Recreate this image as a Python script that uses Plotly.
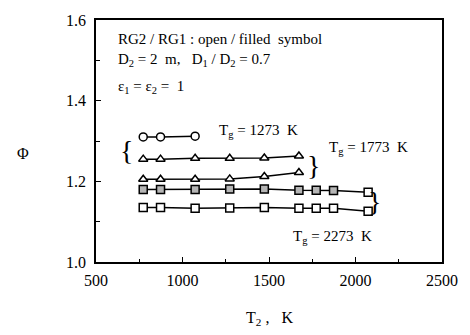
import plotly.graph_objects as go

# Data
t2_circ = [773, 873, 1073]
phi_circ = [1.310, 1.310, 1.312]

t2_tri_a = [773, 873, 1073, 1273, 1473, 1673]
phi_tri_a = [1.255, 1.255, 1.257, 1.257, 1.258, 1.263]

t2_tri_b = [773, 873, 1073, 1273, 1473, 1673]
phi_tri_b = [1.205, 1.205, 1.205, 1.206, 1.212, 1.222]

t2_sq_a = [773, 873, 1073, 1273, 1473, 1673, 1773, 1873, 2073]
phi_sq_a = [1.180, 1.180, 1.180, 1.181, 1.181, 1.178, 1.178, 1.177, 1.173]

t2_sq_b = [773, 873, 1073, 1273, 1473, 1673, 1773, 1873, 2073]
phi_sq_b = [1.135, 1.135, 1.133, 1.134, 1.135, 1.133, 1.133, 1.133, 1.126]

x_ticks = [500, 1000, 1500, 2000, 2500]
y_ticks = [1.0, 1.2, 1.4, 1.6]

SERIF = "Liberation Serif"
fig = go.Figure()

def add(x, y, symbol, fill):
    fig.add_trace(go.Scatter(
        x=x, y=y, mode="lines+markers",
        line=dict(color="black", width=1.5),
        marker=dict(symbol=symbol, size=8, color=fill,
                    line=dict(color="black", width=1.5)),
        showlegend=False))

grey = "#b5b5b5"
add(t2_circ, phi_circ, "circle", "white")
add(t2_tri_a, phi_tri_a, "triangle-up", "white")
add(t2_tri_b, phi_tri_b, "triangle-up", "white")
add(t2_sq_a, phi_sq_a, "square", [grey] * (len(t2_sq_a) - 1) + ["white"])
add(t2_sq_b, phi_sq_b, "square", "white")

axis_common = dict(showline=True, linecolor="black", linewidth=1.5, mirror=True,
                   ticks="inside", ticklen=5, tickwidth=1, tickcolor="black",
                   showgrid=False, zeroline=False,
                   tickfont=dict(family=SERIF, size=16, color="black"))

fig.update_xaxes(range=[500, 2500], tickvals=x_ticks,
                 ticktext=[str(v) for v in x_ticks], ticklabelstandoff=3,
                 minor=dict(ticks="inside", ticklen=3, dtick=250, tick0=500, tickcolor="black"),
                 **axis_common)
fig.update_yaxes(range=[1.0, 1.6], tickvals=y_ticks,
                 ticktext=["%.1f" % v for v in y_ticks], ticklabelstandoff=5,
                 minor=dict(ticks="inside", ticklen=4, dtick=0.1, tick0=1.0, tickcolor="black"),
                 **axis_common)

nb = "\u00a0"
ann = [
    (0.057, 0.92, f"RG2 / RG1 : open / filled{nb}{nb}symbol", 15, "left"),
    (0.057, 0.835, f"D<sub>2</sub> = 2{nb}{nb}m,{nb}{nb} D<sub>1</sub> / D<sub>2</sub> = 0.7", 15, "left"),
    (0.057, 0.725, f"ε<sub>1</sub> = ε<sub>2</sub> ={nb} 1", 15, "left"),
    (0.349, 0.54, f"T<sub>g</sub> = 1273{nb}{nb}K", 15, "left"),
    (0.669, 0.47, f"T<sub>g</sub> = 1773{nb}{nb}K", 15, "left"),
    (0.563, 0.105, f"T<sub>g</sub> = 2273{nb}{nb}K", 15, "left"),
]
for x, y, t, s, anc in ann:
    fig.add_annotation(x=x, y=y, xref="paper", yref="paper", text=t, showarrow=False,
                       xanchor=anc, yanchor="middle",
                       font=dict(family=SERIF, size=s, color="black"))

braces = [((127 - 96) / 350, (262 - 147) / 250, "{"),
          ((316 - 96) / 350, (262 - 162) / 250, "}"),
          ((378 - 96) / 350, (262 - 200) / 250, "}")]
for x, y, t in braces:
    fig.add_annotation(x=x, y=y, xref="paper", yref="paper", text=t, showarrow=False,
                       xanchor="center", yanchor="middle",
                       font=dict(family=SERIF, size=28, color="black"))

fig.add_annotation(x=(22 - 96) / 350, y=(262 - 150) / 250, xref="paper", yref="paper",
                   text="Φ", showarrow=False, xanchor="center", yanchor="middle",
                   font=dict(family=SERIF, size=16, color="black"))
fig.add_annotation(x=(271 - 96) / 350, y=(262 - 320) / 250, xref="paper", yref="paper",
                   text=f"T<sub>2</sub>{nb},{nb}{nb} K", showarrow=False,
                   xanchor="center", yanchor="middle",
                   font=dict(family=SERIF, size=16, color="black"))

fig.update_layout(width=470, height=335,
                  margin=dict(l=96, r=24, t=12, b=73),
                  paper_bgcolor="white", plot_bgcolor="white")

fig.write_html("out.html")
